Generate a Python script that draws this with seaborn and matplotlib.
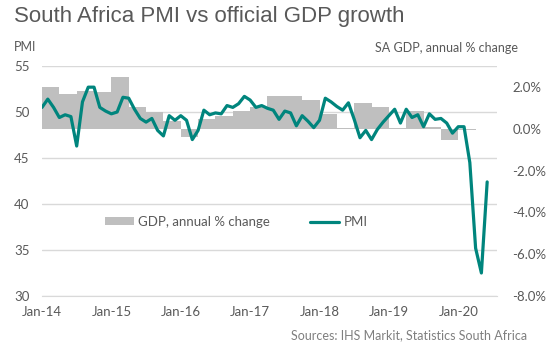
import numpy as np
import pandas as pd
import seaborn as sns
import matplotlib.pyplot as plt
from matplotlib.patches import Patch
from matplotlib.lines import Line2D
from matplotlib.ticker import StrMethodFormatter

# PMI, monthly Jan-14 .. Jun-20
pmi = [50.5, 51.4, 50.5, 49.4, 49.7, 49.5, 46.3, 51.1, 52.7, 52.7, 50.5, 50.1,
       49.8, 50.0, 51.6, 51.5, 50.3, 49.3, 48.9, 49.3, 48.0, 47.4, 49.6, 49.1,
       49.6, 49.1, 47.0, 48.0, 50.2, 49.7, 49.9, 49.8, 50.7, 50.5, 50.9, 51.7,
       51.3, 50.5, 50.7, 50.4, 50.2, 49.2, 50.1, 49.9, 48.5, 49.6, 49.0, 48.3,
       49.1, 51.5, 51.1, 50.6, 50.2, 51.0, 49.2, 47.2, 48.0, 47.0, 48.1, 48.9,
       49.6, 50.3, 48.8, 50.3, 49.4, 49.7, 48.4, 49.8, 49.2, 49.3, 48.8, 47.7,
       48.4, 48.4, 44.5, 35.2, 32.5, 42.4]

# GDP, annual % change, quarterly Q1-14 .. Q1-20
gdp = [2.0, 1.65, 1.8, 1.75, 2.45, 1.05, 0.8, 0.35, -0.4, 0.45, 0.6, 0.85,
       1.05, 1.55, 1.55, 1.35, 0.7, 0.03, 1.25, 1.05, 0.02, 0.85, 0.1, -0.55,
       -0.05]

year_labels = ["Jan-14", "Jan-15", "Jan-16", "Jan-17", "Jan-18", "Jan-19", "Jan-20"]

TEAL = "#00857d"
BAR = "#bfbfbf"
GRID = "#d9d9d9"
TXT = "#595959"

sns.set_style("white")
plt.rcParams["font.family"] = ["Lato", "DejaVu Sans"]
plt.rcParams["axes.unicode_minus"] = False

df_pmi = pd.DataFrame({"month": np.arange(len(pmi)), "pmi": pmi})
df_gdp = pd.DataFrame({"month": np.arange(len(gdp)) * 3 + 1.5, "gdp": gdp})

fig = plt.figure(figsize=(5.5, 3.57), dpi=100)
ax = fig.add_axes([42 / 550, 1 - 296 / 357, 455 / 550, 230 / 357])
ax_bar = ax.twinx()
ax_line = ax.twinx()

# bars on the right-hand scale
sns.barplot(data=df_gdp, x="month", y="gdp", native_scale=True, width=1,
            color=BAR, saturation=1, linewidth=0, errorbar=None, ax=ax_bar)

# PMI on the left-hand scale, drawn on top
sns.lineplot(data=df_pmi, x="month", y="pmi", color=TEAL, lw=2.3, ax=ax_line)

xmax = 78.7
for a in (ax, ax_bar, ax_line):
    a.set_xlim(0, xmax)
    for s in a.spines.values():
        s.set_visible(False)
    a.set_xlabel("")
    a.set_ylabel("")

ax.set_ylim(30, 55)
ax_line.set_ylim(30, 55)
ax_bar.set_ylim(-8, 3)

ax.set_yticks(range(30, 56, 5))
ax.yaxis.grid(True, color=GRID, lw=1)
ax.tick_params(axis="y", length=0, pad=9, labelsize=9.5, labelcolor=TXT)
ax.spines["bottom"].set_visible(True)
ax.spines["bottom"].set_color(GRID)
ax.set_xticks(np.arange(len(year_labels)) * 12)
ax.set_xticklabels(year_labels)
ax.tick_params(axis="x", length=3, color=GRID, pad=4, labelsize=9.5, labelcolor=TXT)

ax_bar.set_yticks(range(-8, 3, 2))
ax_bar.yaxis.set_major_formatter(StrMethodFormatter("{x:.1f}%"))
ax_bar.tick_params(axis="y", length=0, pad=11, labelsize=9.5, labelcolor=TXT)
ax_bar.tick_params(axis="x", bottom=False, labelbottom=False)

ax_line.tick_params(left=False, right=False, labelleft=False, labelright=False,
                    bottom=False, labelbottom=False)

handles = [Patch(facecolor=BAR, edgecolor="none"),
           Line2D([0], [0], color=TEAL, lw=2.3)]
ax_line.legend(handles, ["GDP, annual % change", "PMI"], loc="center left",
               bbox_to_anchor=(56 / 455, 74 / 230), ncol=2, frameon=False,
               borderpad=0, handlelength=2.2, handleheight=0.55,
               handletextpad=0.3, columnspacing=3.1, fontsize=9.5,
               labelcolor=TXT)

fig.text(14 / 550, 1 - 6 / 357, "South Africa PMI vs official GDP growth",
         fontsize=16, color=TXT, va="top", ha="left",
         family=["Liberation Sans", "DejaVu Sans"])
fig.text(14 / 550, 1 - 47 / 357, "PMI", fontsize=9, color=TXT, va="center", ha="left")
fig.text(518 / 550, 1 - 48 / 357, "SA GDP, annual % change", fontsize=9, color=TXT,
         va="center", ha="right")
fig.text(527 / 550, 1 - 335 / 357, "Sources: IHS Markit, Statistics South Africa",
         fontsize=9, color="#7f7f7f", va="center", ha="right")

fig.savefig("out.png", dpi=100)
